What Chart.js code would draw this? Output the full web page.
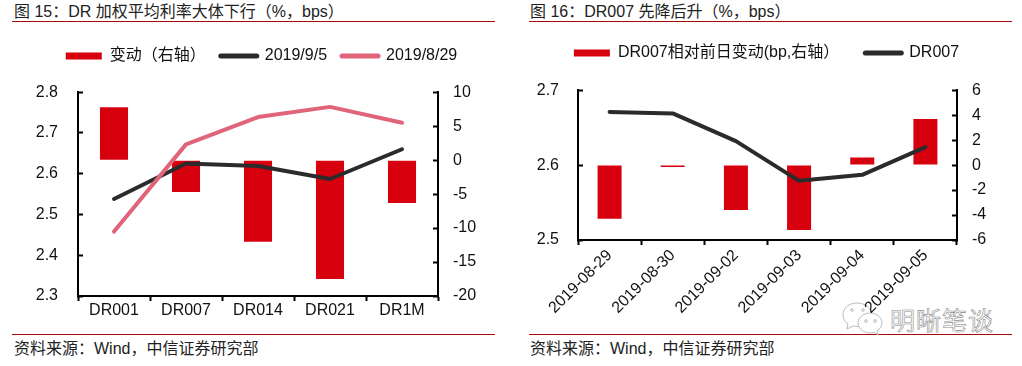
<!DOCTYPE html>
<html>
<head>
<meta charset="utf-8">
<script src="https://cdn.jsdelivr.net/npm/chart.js@4"></script>
<style>
  html, body { margin: 0; padding: 0; background: #fff; }
  body { position: relative; width: 1022px; height: 366px; overflow: hidden; font-family: "Liberation Sans", "Noto Sans CJK SC", sans-serif; color: #222; }
  canvas { position: absolute; top: 0; }
  .txt { position: absolute; font-size: 16px; line-height: 20px; white-space: pre; }
  .rule { position: absolute; height: 1px; background: #a80a0a; width: 483px; }
  .mark { position: absolute; left: 890px; top: 306px; font-size: 25px; line-height: 30px; letter-spacing: 1px; color: #fff; -webkit-text-stroke: 0.6px #8c8c8c; }
  svg { position: absolute; left: 840px; top: 300px; }
</style>
</head>
<body>
<div class="txt" style="left:14px;top:2px">图 15：DR 加权平均利率大体下行（%，bps）</div>
<div class="rule" style="left:12px;top:21px"></div>
<div class="rule" style="left:12px;top:334px"></div>
<div class="txt" style="left:14px;top:339px">资料来源：Wind，中信证券研究部</div>
<div class="txt" style="left:530px;top:2px">图 16：DR007 先降后升（%，bps）</div>
<div class="rule" style="left:529px;top:21px"></div>
<div class="rule" style="left:529px;top:334px"></div>
<div class="txt" style="left:530px;top:339px">资料来源：Wind，中信证券研究部</div>
<svg width="46" height="40" fill="#fff" stroke="#aaa" stroke-width="0.8">
  <path d="M17 3c-8 0-14 5-14 12 0 4 2 7 5 9l-1 5 6-3c2 .5 3 .5 5 .5 8 0 14-5 14-11.500S25 3 17 3z"/>
  <path d="M30 13c-7 0-12 5-12 10s5 10 12 10c1.500 0 3-.2 4-.6l4 2.600-1-4c3-2 5-5 5-8 0-5-5-10-12-10z"/>
  <circle cx="12" cy="10" r="1.300"/><circle cx="23" cy="10" r="1.300"/>
  <circle cx="26" cy="21" r="1.300"/><circle cx="35" cy="21" r="1.300"/>
</svg>
<div class="mark">明晰笔谈</div>
<canvas id="left" width="511" height="366" style="left:0"></canvas>
<canvas id="right" width="511" height="366" style="left:511px"></canvas>
<script>
const FONT = '"Liberation Sans", "Noto Sans CJK SC", sans-serif'
const RED = '#d7000f', BLACK = '#2b2b2b', PINK = '#e0647a'

// figure 15
const tenors = ['DR001', 'DR007', 'DR014', 'DR021', 'DR1M']
const change = [7.8, -4.7, -12, -17.5, -6.3]
const sep5 = [2.538, 2.625, 2.619, 2.587, 2.66]
const aug29 = [2.458, 2.672, 2.739, 2.764, 2.725]

// figure 16
const days = ['2019-08-29', '2019-08-30', '2019-09-02', '2019-09-03', '2019-09-04', '2019-09-05']
const dayChange = [-4.3, -0.15, -3.6, -5.2, 0.6, 3.7]
const dr007 = [2.671, 2.669, 2.632, 2.579, 2.587, 2.624]

Chart.defaults.font.family = FONT
Chart.defaults.color = '#111'
Chart.defaults.animation = false
Chart.defaults.responsive = false

function lineSet(label, data, color, order) {
  return { type: 'line', label, data, yAxisID: 'y', borderColor: color, backgroundColor: color,
    borderWidth: 4, borderCapStyle: 'round', borderJoinStyle: 'round', pointRadius: 0, tension: 0, order }
}

function barSet(label, data, pct) {
  return { type: 'bar', label, data, yAxisID: 'y1', backgroundColor: RED, barPercentage: pct, categoryPercentage: 1, order: 9 }
}

// fixed plot box: axis widths are forced so the frame lands where it does in the picture
function makeChart(id, cats, datasets, o) {
  return new Chart(document.getElementById(id), {
    data: { labels: cats, datasets },
    options: {
      layout: { padding: { left: o.padLeft, top: o.padTop } },
      plugins: {
        tooltip: { enabled: false },
        // blank title under the legend, only there to push the plot down
        title: { display: true, text: ' ', color: 'rgba(0,0,0,0)', weight: 500, font: { size: 1 }, padding: { top: 0, bottom: o.spacer } },
        legend: {
          position: 'top',
          align: 'center',
          labels: {
            usePointStyle: true,
            pointStyleWidth: 36,
            padding: o.legendGap,
            color: '#111',
            font: { size: 16 },
            generateLabels: function(chart) {
              return chart.data.datasets.map(function(d) {
                const isBar = d.type === 'bar'
                return {
                  text: d.label, pointStyle: 'line', fontColor: '#111',
                  strokeStyle: isBar ? RED : d.borderColor, fillStyle: isBar ? RED : d.borderColor,
                  lineWidth: isBar ? 7 : 5, lineCap: isBar ? 'butt' : 'round'
                }
              })
            }
          }
        }
      },
      scales: {
        x: {
          offset: true,
          grid: { offset: true, drawOnChartArea: false, tickLength: 5, tickColor: '#000', tickWidth: 2 },
          border: { color: '#000', width: 2 },
          ticks: { padding: o.xPad, autoSkip: false, maxRotation: o.rot, minRotation: o.rot, font: { size: 16 } },
          afterFit: function(s) { s.height = 366 - o.bottom }
        },
        y: {
          position: 'left',
          min: o.yMin, max: o.yMax,
          grid: { drawOnChartArea: false, tickLength: -5, tickColor: '#000', tickWidth: 2 },
          border: { color: '#000', width: 2 },
          ticks: { stepSize: 0.1, padding: o.yPad, font: { size: 16 }, callback: function(v) { return v.toFixed(1) } },
          afterFit: function(s) { s.width = o.left - o.padLeft }
        },
        y1: {
          position: 'right',
          min: o.y1Min, max: o.y1Max,
          grid: { drawOnChartArea: false, tickLength: -5, tickColor: '#000', tickWidth: 2 },
          border: { color: '#000', width: 2 },
          ticks: { stepSize: o.y1Step, padding: 20, font: { size: 16 } },
          afterFit: function(s) { s.width = 511 - o.right }
        }
      }
    }
  })
}

makeChart('left', tenors, [
  barSet('变动（右轴）', change, 0.39),
  lineSet('2019/9/5', sep5, BLACK, 2),
  lineSet('2019/8/29', aug29, PINK, 1)
], { padLeft: 12, padTop: 33, legendGap: 15, spacer: 17, left: 78, right: 438, bottom: 296, xPad: 0, yPad: 25, rot: 0,
     yMin: 2.3, yMax: 2.8, y1Min: -20, y1Max: 10, y1Step: 5 })

makeChart('right', days, [
  barSet('DR007相对前日变动(bp,右轴）', dayChange, 0.38),
  lineSet('DR007', dr007, BLACK, 1)
], { padLeft: 0, padTop: 19, legendGap: 26, spacer: 18, left: 67, right: 446, bottom: 240, xPad: 1, yPad: 24, rot: 45,
     yMin: 2.5, yMax: 2.7, y1Min: -6, y1Max: 6, y1Step: 2 })
</script>
</body>
</html>
